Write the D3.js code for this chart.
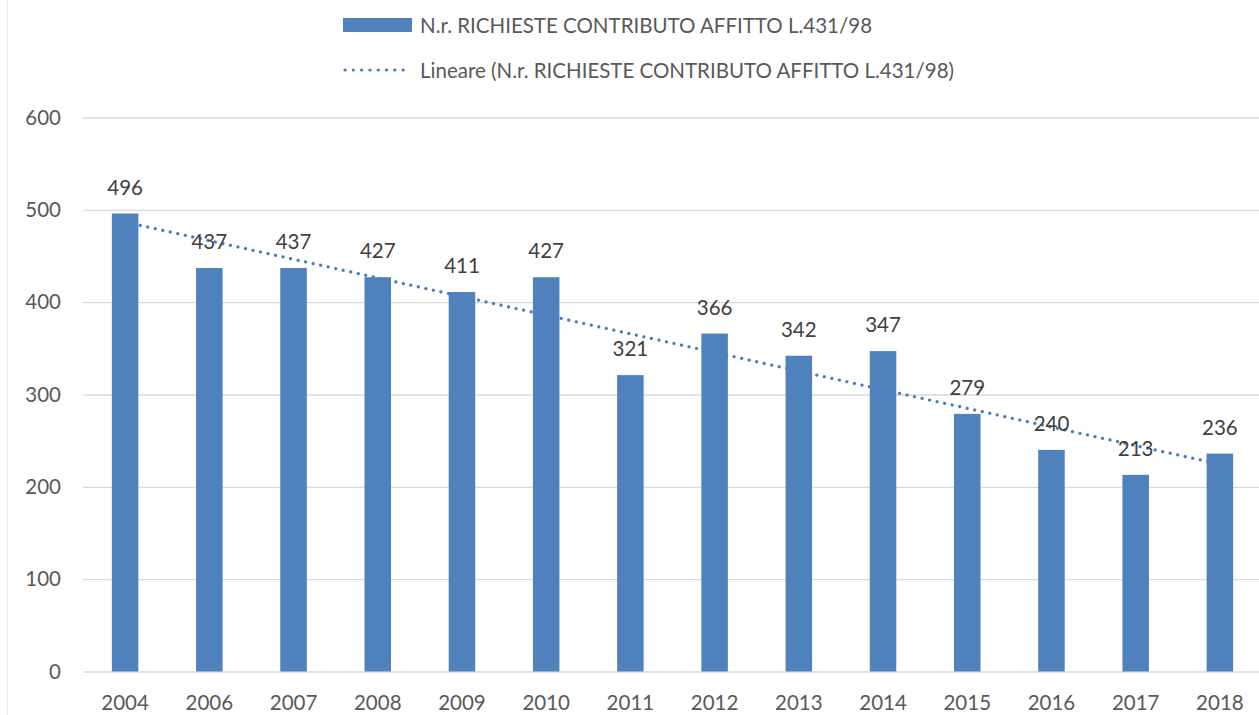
<!DOCTYPE html>
<html>
<head>
<meta charset="utf-8">
<script src="https://cdn.jsdelivr.net/npm/d3@7"></script>
<style>
  html, body { margin: 0; padding: 0; background: #fff; }
  svg { display: block; font-family: Lato, "Open Sans", sans-serif; }
</style>
</head>
<body>
<div id="chart"></div>
<script>
// Richieste contributo affitto L.431/98, per anno
const years = ['2004', '2006', '2007', '2008', '2009', '2010', '2011', '2012', '2013', '2014', '2015', '2016', '2017', '2018'];
const requests = [496, 437, 437, 427, 411, 427, 321, 366, 342, 347, 279, 240, 213, 236];
const yTicks = [0, 100, 200, 300, 400, 500, 600];
const seriesName = 'N.r. RICHIESTE CONTRIBUTO AFFITTO L.431/98';
const trendName = 'Lineare (N.r. RICHIESTE CONTRIBUTO AFFITTO L.431/98)';

const W = 1259, H = 715;
const PLOT = { left: 83, right: 1262, top: 117.5, bottom: 671.5 };
const BAR = '#4f81bd';
const AXIS_INK = '#595959';
const LABEL_INK = '#404040';
const GRID = '#d9d9d9';

const svg = d3.select('#chart').append('svg')
  .attr('width', W).attr('height', H).attr('viewBox', `0 0 ${W} ${H}`);

// faint chart-area border on the left
svg.append('line').attr('x1', 7.5).attr('x2', 7.5).attr('y1', 0).attr('y2', H)
  .attr('stroke', '#ececec').attr('stroke-width', 1);

const x = d3.scaleBand().domain(years).range([PLOT.left, PLOT.right])
  .paddingInner(0.685).paddingOuter(0.3425);
const y = d3.scaleLinear().domain([0, 600]).range([PLOT.bottom, PLOT.top]);

// gridlines + y labels
svg.append('g').attr('transform', `translate(${PLOT.left},0)`)
  .call(d3.axisLeft(y).tickValues(yTicks).tickSize(-(W - PLOT.left)).tickPadding(22))
  .call((g) => {
    g.select('.domain').remove();
    g.selectAll('line').attr('stroke', GRID).attr('stroke-width', 1.3);
    g.selectAll('text').attr('fill', AXIS_INK).attr('font-size', 20.5)
      .attr('font-family', 'Lato, sans-serif');
  });

// x labels
svg.append('g').attr('transform', `translate(0,${PLOT.bottom})`)
  .call(d3.axisBottom(x).tickSize(0).tickPadding(0))
  .call((g) => {
    g.select('.domain').remove();
    g.selectAll('text').attr('fill', AXIS_INK).attr('font-size', 20.5)
      .attr('font-family', 'Lato, sans-serif').attr('dy', null).attr('y', 38);
  });

// linear trendline (least squares over category index, as the spreadsheet does)
const n = requests.length;
const idx = d3.range(1, n + 1);
const mx = d3.mean(idx), my = d3.mean(requests);
const slope = d3.sum(idx, (v, i) => (v - mx) * (requests[i] - my)) / d3.sum(idx, (v) => (v - mx) ** 2);
const icpt = my - slope * mx;
const trend = [years[0], years[n - 1]].map((yr) => {
  const k = years.indexOf(yr) + 1;
  return { x: x(yr) + x.bandwidth() / 2, y: icpt + slope * k };
});
svg.append('path').datum(trend)
  .attr('d', d3.line().x((d) => d.x).y((d) => y(d.y)))
  .attr('fill', 'none').attr('stroke', '#4a7ebb').attr('stroke-width', 3.2)
  .attr('stroke-linecap', 'round').attr('stroke-dasharray', '0.1 7.6');

// bars
svg.append('g').selectAll('rect').data(requests).join('rect')
  .attr('x', (d, i) => x(years[i])).attr('width', x.bandwidth())
  .attr('y', (d) => y(d)).attr('height', (d) => y(0) - y(d))
  .attr('fill', BAR);

// data labels
svg.append('g').selectAll('text').data(requests).join('text')
  .attr('x', (d, i) => x(years[i]) + x.bandwidth() / 2)
  .attr('y', (d) => y(d) - 19)
  .attr('text-anchor', 'middle').attr('fill', LABEL_INK).attr('font-size', 20.5)
  .text((d) => d);

// legend
const lg = svg.append('g');
lg.append('rect').attr('x', 343).attr('y', 18).attr('width', 69).attr('height', 14).attr('fill', BAR);
lg.append('text').attr('x', 420).attr('y', 32.5).attr('fill', AXIS_INK).attr('font-size', 20.5).text(seriesName);
lg.append('line').attr('x1', 345).attr('x2', 411).attr('y1', 70).attr('y2', 70)
  .attr('stroke', '#4a7ebb').attr('stroke-width', 3.2)
  .attr('stroke-linecap', 'round').attr('stroke-dasharray', '0.1 8.2');
lg.append('text').attr('x', 420).attr('y', 77.5).attr('fill', AXIS_INK).attr('font-size', 20.5).text(trendName);
</script>
</body>
</html>
